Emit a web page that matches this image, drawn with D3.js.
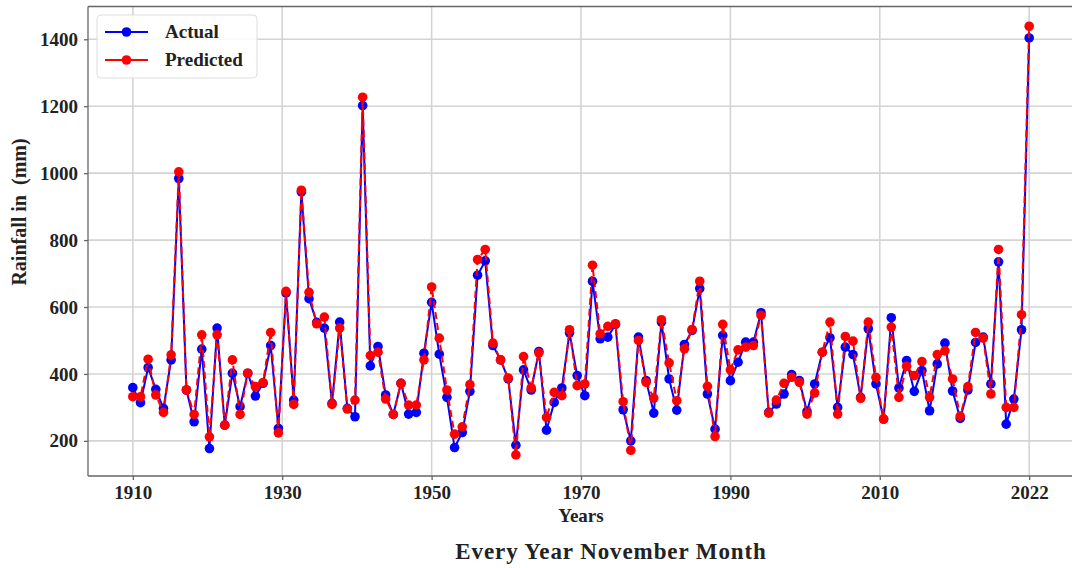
<!DOCTYPE html>
<meta charset="utf-8">
<style>

body {
  margin: 0;
  background: #fff;
}

svg text {
  font-family: "Liberation Serif", "Times New Roman", serif;
  font-weight: bold;
  fill: #222;
}

.grid line {
  stroke: #d4d4d4;
  stroke-width: 1.6px;
}

.axis path,
.axis line {
  stroke: #666;
  stroke-width: 1.3px;
}

.axis text {
  font-size: 19px;
}

</style>
<body>
  <script src="https://d3js.org/d3.v7.min.js"></script>
  <script>

    // tick labels along the x axis (spread evenly from first to last point)
    var yearLabels = ["1910", "1930", "1950", "1970", "1990", "2010", "2022"];
    var yTicks = [200, 400, 600, 800, 1000, 1200, 1400];

    // November rainfall (mm), one value per point
    var actual = [359, 314, 419, 354, 297, 442, 984, 352, 257, 474,
                  177, 537, 247, 402, 302, 402, 334, 372, 485, 237,
                  642, 322, 944, 625, 554, 537, 312, 555, 297, 272,
                  1202, 424, 482, 337, 279, 372, 280, 285, 462, 614,
                  459, 330, 180, 225, 348, 695, 738, 485, 442, 385,
                  187, 412, 352, 467, 232, 315, 358, 523, 395, 335,
                  677, 505, 510, 548, 293, 200, 510, 380, 283, 555,
                  385, 292, 488, 530, 655, 340, 235, 515, 380, 435,
                  495, 495, 583, 285, 310, 340, 398, 380, 288, 370,
                  465, 508, 300, 480, 458, 330, 535, 370, 265, 568,
                  358, 440, 348, 410, 290, 430, 492, 349, 267, 352,
                  494, 510, 370, 735, 250, 325, 532, 1404];

    var predicted = [332, 332, 444, 337, 285, 457, 1004, 352, 279, 517,
                     212, 517, 247, 442, 279, 402, 362, 374, 524, 224,
                     647, 309, 949, 644, 550, 570, 309, 537, 295, 322,
                     1227, 455, 465, 325, 279, 372, 307, 307, 442, 660,
                     507, 352, 220, 242, 368, 742, 772, 492, 442, 388,
                     158, 452, 358, 463, 270, 345, 335, 532, 365, 370,
                     725, 520, 542, 550, 317, 172, 500, 375, 328, 562,
                     433, 320, 475, 533, 677, 363, 213, 548, 412, 472,
                     480, 485, 575, 283, 322, 372, 390, 375, 280, 343,
                     465, 555, 280, 512, 498, 327, 555, 390, 265, 540,
                     330, 423, 395, 437, 330, 458, 469, 385, 274, 362,
                     524, 507, 340, 772, 300, 300, 577, 1439];

    var width = 1072, height = 568;
    var plot = {left: 88, right: 1074, top: 6.5, bottom: 476};
    var n = actual.length;

    var svg = d3.select("body").append("svg")
        .attr("width", width)
        .attr("height", height);

    var x = d3.scaleLinear()
        .domain([-(n - 1) * 0.05, (n - 1) * 1.05])
        .range([plot.left, plot.right]);

    var y = d3.scaleLinear()
        .domain([95, 1498])
        .range([plot.bottom, plot.top]);

    var tickPos = yearLabels.map(function(d, i) { return i * (n - 1) / (yearLabels.length - 1); });

    // grid
    svg.append("g")
        .attr("class", "grid")
        .selectAll("line.v")
        .data(tickPos)
      .enter().append("line")
        .attr("x1", function(d) { return x(d); })
        .attr("x2", function(d) { return x(d); })
        .attr("y1", plot.top)
        .attr("y2", plot.bottom);

    svg.append("g")
        .attr("class", "grid")
        .selectAll("line.h")
        .data(yTicks)
      .enter().append("line")
        .attr("x1", plot.left)
        .attr("x2", plot.right)
        .attr("y1", function(d) { return y(d); })
        .attr("y2", function(d) { return y(d); });

    // axes
    var xAxis = d3.axisBottom(x)
        .tickValues(tickPos)
        .tickFormat(function(d, i) { return yearLabels[i]; })
        .tickSize(4)
        .tickPadding(6);

    var yAxis = d3.axisLeft(y)
        .tickValues(yTicks)
        .tickFormat(d3.format("d"))
        .tickSize(4)
        .tickPadding(6);

    svg.append("g")
        .attr("class", "axis")
        .attr("transform", "translate(0," + plot.bottom + ")")
        .call(xAxis)
        .call(function(g) { g.select(".domain").attr("d", "M" + plot.left + ",0H" + plot.right); });

    svg.append("g")
        .attr("class", "axis")
        .attr("transform", "translate(" + plot.left + ",0)")
        .call(yAxis)
        .call(function(g) { g.select(".domain").attr("d", "M0," + plot.top + "V" + plot.bottom); });

    svg.selectAll(".axis text").attr("fill", "#222");

    // top spine
    svg.append("line")
        .attr("x1", plot.left)
        .attr("x2", plot.right)
        .attr("y1", plot.top)
        .attr("y2", plot.top)
        .attr("stroke", "#666")
        .attr("stroke-width", 1.3);

    // series
    var line = d3.line()
        .x(function(d, i) { return x(i); })
        .y(function(d) { return y(d); });

    function drawSeries(values, color, dash) {
      svg.append("path")
          .datum(values)
          .attr("fill", "none")
          .attr("stroke", color)
          .attr("stroke-width", 2)
          .attr("stroke-dasharray", dash)
          .attr("d", line);

      svg.append("g")
          .selectAll("circle")
          .data(values)
        .enter().append("circle")
          .attr("cx", function(d, i) { return x(i); })
          .attr("cy", function(d) { return y(d); })
          .attr("r", 4.8)
          .attr("fill", color);
    }

    drawSeries(actual, "#0000ff", null);
    drawSeries(predicted, "#ff0000", "7,4");

    // labels
    svg.append("text")
        .attr("x", (plot.left + plot.right) / 2)
        .attr("y", 522)
        .attr("text-anchor", "middle")
        .style("font-size", "19px")
        .text("Years");

    svg.append("text")
        .attr("x", 611)
        .attr("y", 559)
        .attr("text-anchor", "middle")
        .style("font-size", "23px")
        .style("letter-spacing", "0.9px")
        .text("Every Year November Month");

    svg.append("text")
        .attr("transform", "translate(26,212) rotate(-90)")
        .attr("text-anchor", "middle")
        .style("font-size", "20px")
        .style("white-space", "pre")
        .text("Rainfall in  (mm)");

    // legend
    var legend = svg.append("g");

    legend.append("rect")
        .attr("x", 97)
        .attr("y", 15)
        .attr("width", 160)
        .attr("height", 63)
        .attr("rx", 4)
        .attr("fill", "#fff")
        .attr("fill-opacity", 0.85)
        .attr("stroke", "#ddd");

    var entries = [
      {name: "Actual", color: "#0000ff"},
      {name: "Predicted", color: "#ff0000"}
    ];

    entries.forEach(function(e, i) {
      var ly = 32 + i * 28;
      legend.append("line")
          .attr("x1", 105)
          .attr("x2", 148)
          .attr("y1", ly)
          .attr("y2", ly)
          .attr("stroke", e.color)
          .attr("stroke-width", 2);
      legend.append("circle")
          .attr("cx", 126.5)
          .attr("cy", ly)
          .attr("r", 4.8)
          .attr("fill", e.color);
      legend.append("text")
          .attr("x", 165)
          .attr("y", ly + 6)
          .style("font-size", "19px")
          .text(e.name);
    });

  </script>
</body>
</html>
